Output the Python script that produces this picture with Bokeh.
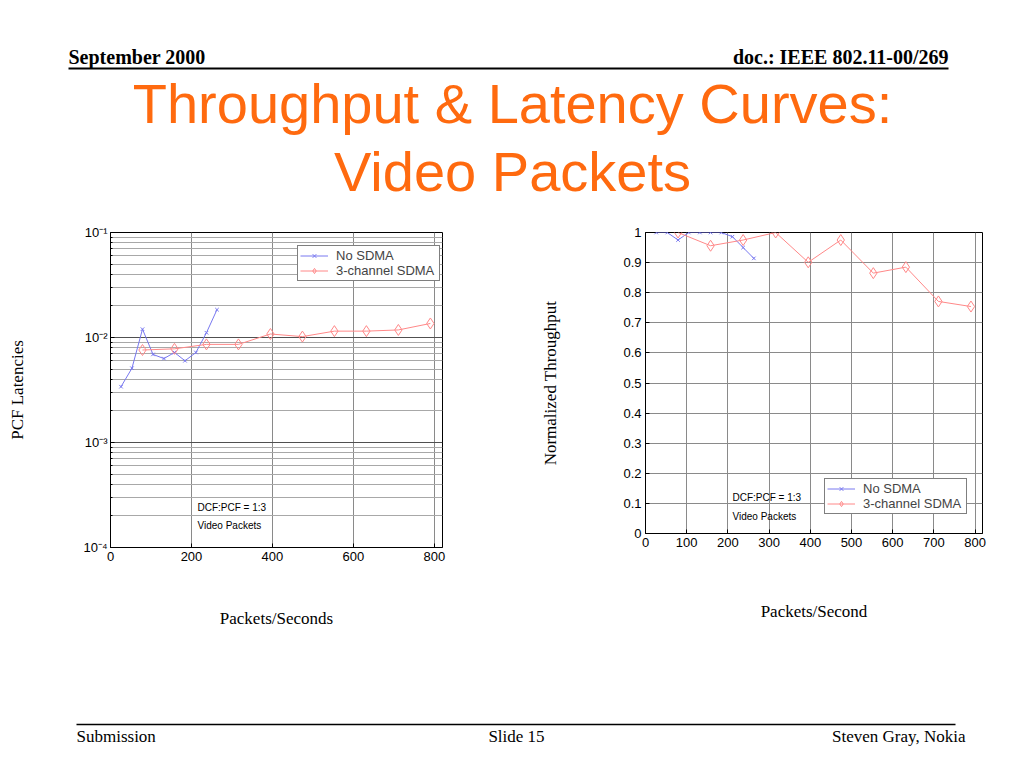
from bokeh.plotting import figure
from bokeh.layouts import column, row
from bokeh.models import (Range1d, FixedTicker, CustomJSTickFormatter, Label,
                          Legend, LegendItem)
from bokeh.core.properties import value
from bokeh.embed import file_html
from bokeh.resources import INLINE

# ---------------- data ----------------
series_names = ["No SDMA", "3-channel SDMA"]
nosdma_rate = [26, 53, 79, 105, 132, 158, 184, 211, 237, 263]
sdma_rate = [79, 158, 237, 316, 395, 474, 553, 632, 711, 790]
nosdma_latency = [0.0034, 0.0051, 0.0120, 0.0069, 0.0063, 0.0072, 0.0060, 0.0072, 0.0111, 0.0184]
sdma_latency = [0.0076, 0.0078, 0.0086, 0.0086, 0.0108, 0.0102, 0.0115, 0.0115, 0.0118, 0.0136]
nosdma_throughput = [1.0, 1.0, 0.975, 1.0, 1.0, 1.0, 1.0, 0.986, 0.95, 0.914]
sdma_throughput = [1.0, 0.956, 0.975, 1.0, 0.901, 0.975, 0.865, 0.885, 0.771, 0.754]

lat_ticks = [1e-4, 1e-3, 1e-2, 1e-1]
lat_tick_base = "10"
lat_tick_exps = ["-4", "-3", "-2", "-1"]
lat_minor = [m * d for d in lat_ticks[:-1] for m in range(2, 10)]
lat_x_ticks = [0, 200, 400, 600, 800]
thr_x_ticks = [0, 100, 200, 300, 400, 500, 600, 700, 800]
thr_y_ticks = [0, 0.1, 0.2, 0.3, 0.4, 0.5, 0.6, 0.7, 0.8, 0.9, 1.0]

note_lines = ["DCF:PCF = 1:3", "Video Packets"]
header_left = "September 2000"
header_right = "doc.: IEEE 802.11-00/269"
title_lines = ["Throughput & Latency Curves:", "Video Packets"]
footer_texts = ["Submission", "Slide 15", "Steven Gray, Nokia"]

BLUE = "#7878F0"
RED = "#FF8888"
ORANGE = "#FF6A0F"
SANS = "Liberation Sans"
SERIF = "Liberation Serif"


def style_axes(p):
    p.outline_line_color = "black"
    p.outline_line_width = 1
    for ax in (p.xaxis[0], p.yaxis[0]):
        ax.axis_line_color = "black"
        ax.major_tick_in = 4
        ax.major_tick_out = 0
        ax.minor_tick_in = 0
        ax.minor_tick_out = 0
        ax.major_tick_line_color = "black"
        ax.major_label_text_font = SANS
        ax.major_label_text_font_size = "13px"
        ax.major_label_text_color = "black"
        ax.axis_label_text_font = SERIF
        ax.axis_label_text_font_size = "17px"
        ax.axis_label_text_font_style = "normal"
        ax.axis_label_text_color = "black"


def add_series(p, yn, ys):
    ln1 = p.line(nosdma_rate, yn, line_color=BLUE, line_width=1)
    mk1 = p.scatter(nosdma_rate, yn, marker="x", size=5, line_color=BLUE, line_width=1)
    ln2 = p.line(sdma_rate, ys, line_color=RED, line_width=1)
    mk2 = p.scatter(sdma_rate, ys, marker="diamond", size=11, line_color=RED,
                    fill_color=None, line_width=1)
    return [LegendItem(label=series_names[0], renderers=[ln1, mk1]),
            LegendItem(label=series_names[1], renderers=[ln2, mk2])]


def add_legend(p, items, loc):
    lg = Legend(items=items, location=loc, margin=0, padding=2, spacing=0,
                glyph_width=28, glyph_height=13, label_height=13, label_width=101,
                label_standoff=8, label_text_font=SANS, label_text_font_size="13px",
                border_line_color="black", border_line_width=1,
                background_fill_color="white", background_fill_alpha=1)
    p.add_layout(lg, "center")


def add_notes(p, x, ys):
    for t, y in zip(note_lines, ys):
        p.add_layout(Label(x=x, y=y, x_units="screen", y_units="screen", text=t,
                           text_font=SANS, text_font_size="10px", text_baseline="middle",
                           text_align="left", text_color="black"))


# ---------------- header ----------------
hdr = figure(width=1008, height=215, x_range=Range1d(0, 1008), y_range=Range1d(215, 0),
             min_border=0, toolbar_location=None, output_backend="svg",
             x_axis_location=None, y_axis_location=None)
hdr.grid.visible = False
hdr.outline_line_color = None
hdr.text(x=[68], y=[56], text=[header_left], text_font=value(SERIF), text_font_size="20px",
         text_font_style="bold", text_align="left", text_baseline="alphabetic", text_color="black")
hdr.text(x=[948], y=[56], text=[header_right], text_font=value(SERIF), text_font_size="20px",
         text_font_style="bold", text_align="right", text_baseline="alphabetic", text_color="black")
hdr.segment(x0=[68], y0=[68], x1=[948], y1=[68], line_color="black", line_width=2)
hdr.text(x=[512, 512], y=[103, 171], text=title_lines, text_font=value(SANS),
         text_font_size="56px", text_align="center", text_baseline="alphabetic",
         text_color=ORANGE)

# ---------------- left chart: latency ----------------
p1 = figure(width=500, height=425, x_range=Range1d(0, 820), y_range=Range1d(1e-4, 1e-1),
            y_axis_type="log", toolbar_location=None, output_backend="svg",
            min_border_left=110, min_border_right=58, min_border_top=17, min_border_bottom=93)
style_axes(p1)
yt = FixedTicker(ticks=lat_ticks, minor_ticks=lat_minor)
p1.yaxis.ticker = yt
p1.ygrid.ticker = yt
p1.yaxis.formatter = CustomJSTickFormatter(
    args=dict(tvals=lat_ticks, exps=lat_tick_exps, base=lat_tick_base),
    code=r"""
const sup = {"-": "\u207B", "0": "\u2070", "1": "\u00B9", "2": "\u00B2", "3": "\u00B3",
             "4": "\u2074", "5": "\u2075", "6": "\u2076", "7": "\u2077", "8": "\u2078",
             "9": "\u2079"};
const e = Math.round(Math.log10(tick));
let i = 0;
for (let k = 0; k < tvals.length; k++) {
  if (Math.round(Math.log10(tvals[k])) == e) { i = k; }
}
return base + exps[i].split("").map((c) => sup[c]).join("");
""")
p1.yaxis.major_label_standoff = 3
p1.yaxis.minor_tick_in = 2
p1.yaxis.axis_label = "PCF Latencies"
p1.yaxis.axis_label_standoff = 53
xt1 = FixedTicker(ticks=lat_x_ticks)
p1.xaxis.ticker = xt1
p1.xgrid.ticker = xt1
p1.xaxis.major_label_standoff = 4
p1.xaxis.axis_label = "Packets/Seconds"
p1.xaxis.axis_label_standoff = 45
p1.ygrid.grid_line_color = "#505050"
p1.ygrid.minor_grid_line_color = "#a8a8a8"
p1.xgrid.grid_line_color = "#8a8a8a"
items1 = add_series(p1, nosdma_latency, sdma_latency)
add_legend(p1, items1, (187, 266))
add_notes(p1, 87, [40, 22])

# ---------------- right chart: throughput ----------------
p2 = figure(width=508, height=411, x_range=Range1d(0, 818), y_range=Range1d(0, 1),
            toolbar_location=None, output_backend="svg",
            min_border_left=145, min_border_right=26, min_border_top=17, min_border_bottom=93)
style_axes(p2)
xt2 = FixedTicker(ticks=thr_x_ticks)
yt2 = FixedTicker(ticks=thr_y_ticks)
p2.xaxis.ticker = xt2
p2.xgrid.ticker = xt2
p2.yaxis.ticker = yt2
p2.ygrid.ticker = yt2
p2.yaxis.formatter = CustomJSTickFormatter(code=r"return tick.toFixed(1).replace(/\.0$/, '');")
p2.yaxis.major_label_standoff = 4
p2.xaxis.major_label_standoff = 4
p2.yaxis.axis_label = "Normalized Throughput"
p2.yaxis.axis_label_standoff = 60
p2.xaxis.axis_label = "Packets/Second"
p2.xaxis.axis_label_standoff = 52
p2.grid.grid_line_color = "#8a8a8a"
items2 = add_series(p2, nosdma_throughput, sdma_throughput)
add_legend(p2, items2, (179, 19))
add_notes(p2, 87, [36, 17])

# ---------------- footer ----------------
ftr = figure(width=1008, height=120, x_range=Range1d(0, 1008), y_range=Range1d(760, 640),
             min_border=0, toolbar_location=None, output_backend="svg",
             x_axis_location=None, y_axis_location=None)
ftr.grid.visible = False
ftr.outline_line_color = None
ftr.segment(x0=[76], y0=[724], x1=[955], y1=[724], line_color="black", line_width=1.5)
ftr.text(x=[76, 516, 965], y=[736, 736, 736], text=footer_texts, text_font=value(SERIF),
         text_font_size="17px", text_align=["left", "center", "right"],
         text_baseline="alphabetic", text_color="black")

layout = column(hdr, row(p1, p2), ftr)
open("out.html", "w").write(file_html(layout, INLINE))
